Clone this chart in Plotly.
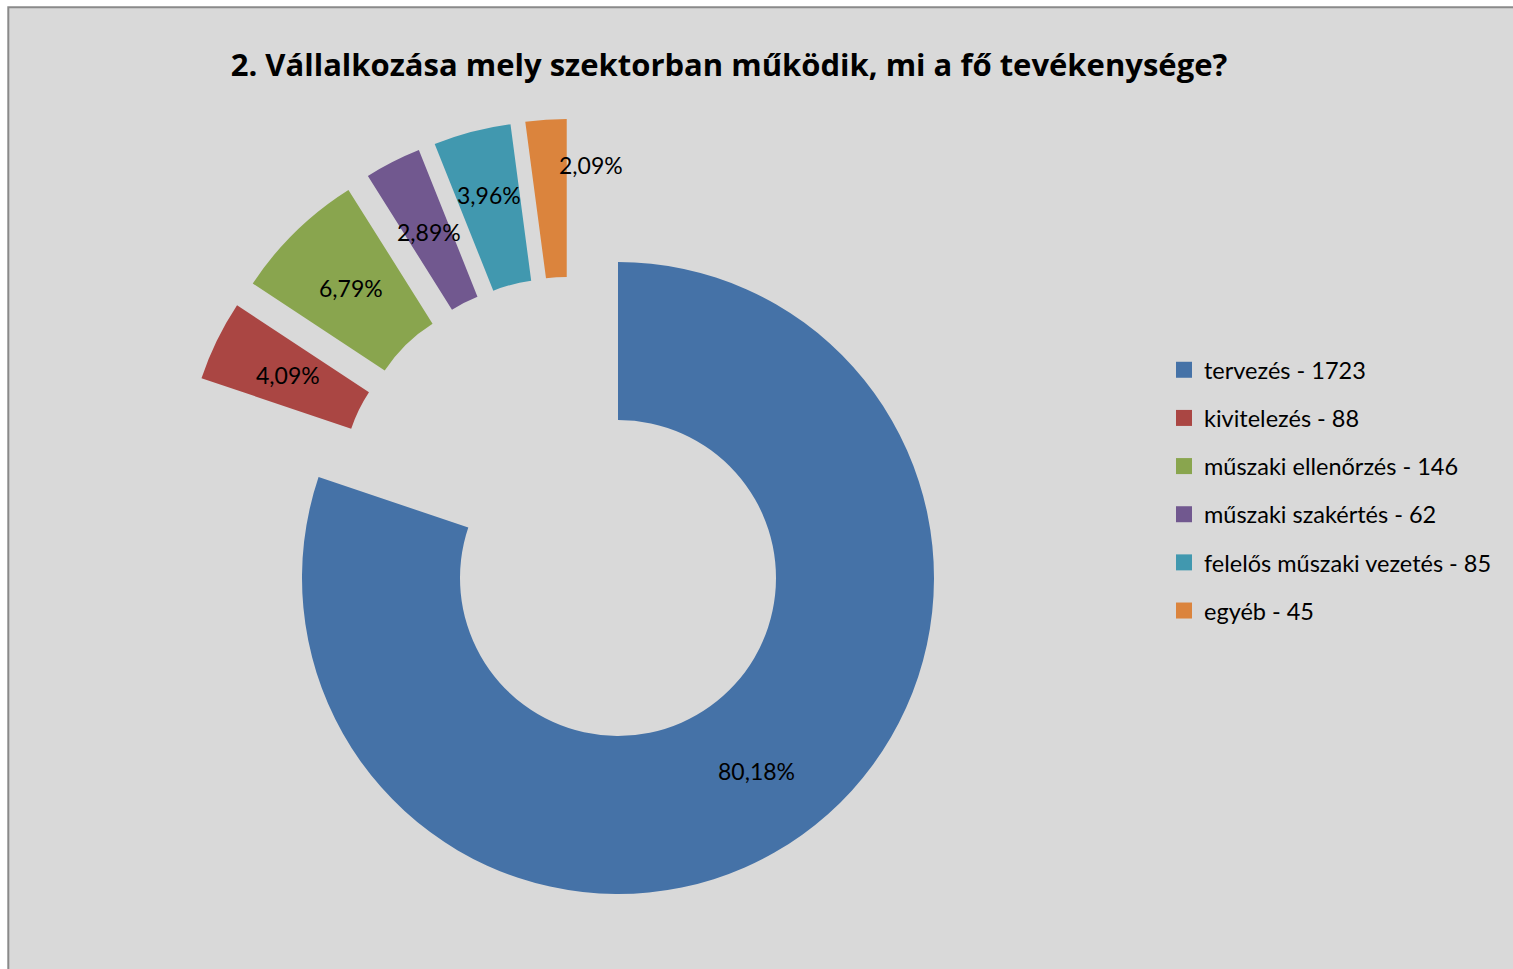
import math
import plotly.graph_objects as go

# ---------------- data ----------------
categories = ["tervezés", "kivitelezés", "műszaki ellenőrzés",
              "műszaki szakértés", "felelős műszaki vezetés", "egyéb"]
counts = [1723, 88, 146, 62, 85, 45]
exploded = [False, True, True, True, True, True]
title_text = "2. Vállalkozása mely szektorban működik, mi a fő tevékenysége?"

# ---------------- style ----------------
colors = ["#4572A7", "#AA4643", "#89A54E", "#71588F", "#4198AF", "#DB843D"]
W, H = 1513, 969
CX, CY = 618, 578          # donut centre (px)
R_OUT = 316                # outer radius (px)
HOLE = 0.5
EXPLODE = 0.25             # explosion, fraction of outer radius
FONT = "Lato"
TITLE_FONT = "Open Sans"
label_nudge = {4: (-3, -13), 5: (40, -34)}   # best-fit label shifts (px)

total = sum(counts)
fracs = [c / total for c in counts]
pct_text = [f"{100 * f:.2f}".replace(".", ",") + "%" for f in fracs]
legend_text = [f"{c} - {n}" for c, n in zip(categories, counts)]

# slice angles (clockwise from 12 o'clock)
starts, ends = [], []
acc = 0.0
for f in fracs:
    starts.append(360 * acc)
    acc += f
    ends.append(360 * acc)
mids = [(a + b) / 2 for a, b in zip(starts, ends)]


def unit(deg):
    r = math.radians(deg)
    return math.sin(r), -math.cos(r)   # screen coords (y down)


ex_idx = [i for i, e in enumerate(exploded) if e]
group_mid = (starts[ex_idx[0]] + ends[ex_idx[-1]]) / 2
ug = unit(group_mid)
A = EXPLODE * R_OUT

offsets = []
for i in range(len(counts)):
    if exploded[i]:
        ui = unit(mids[i])
        offsets.append((A * (ug[0] + ui[0]), A * (ug[1] + ui[1])))
    else:
        offsets.append((0.0, 0.0))

fig = go.Figure()

for i in range(len(counts)):
    ox, oy = offsets[i]
    cx, cy = CX + ox, CY + oy
    dom = dict(x=[(cx - R_OUT) / W, (cx + R_OUT) / W],
               y=[1 - (cy + R_OUT) / H, 1 - (cy - R_OUT) / H])
    slice_colors = [colors[j] if j == i else "rgba(0,0,0,0)" for j in range(len(counts))]
    fig.add_trace(go.Pie(
        values=counts, labels=legend_text, sort=False, direction="clockwise",
        rotation=0, hole=HOLE, domain=dom, textinfo="none",
        marker=dict(colors=slice_colors, line=dict(width=0)),
        showlegend=False, hoverinfo="skip" if i > 0 else "label+percent",
    ))

# percentage labels
R_MID = R_OUT * (1 + HOLE) / 2
for i in range(len(counts)):
    ox, oy = offsets[i]
    u = unit(mids[i])
    px = CX + ox + R_MID * u[0]
    py = CY + oy + R_MID * u[1]
    nx, ny = label_nudge.get(i, (0, 0))
    px += nx
    py += ny
    fig.add_annotation(x=px / W, y=1 - py / H, xref="paper", yref="paper",
                       text=pct_text[i], showarrow=False,
                       xanchor="center", yanchor="middle",
                       font=dict(family=FONT, size=23, color="#000000"))

# legend entries
for i in range(len(counts)):
    fig.add_trace(go.Scatter(
        x=[None], y=[None], mode="markers", name=legend_text[i],
        legendgroup=str(i),
        marker=dict(symbol="square", size=16, color=colors[i]),
    ))

fig.add_shape(type="rect", xref="paper", yref="paper",
              x0=8.3 / W, x1=1.02, y0=-0.02, y1=1 - 7.2 / H,
              fillcolor="#D9D9D9", line=dict(color="#8A8A8A", width=2),
              layer="below")

fig.update_layout(
    width=W, height=H,
    margin=dict(l=0, r=0, t=0, b=0),
    paper_bgcolor="#FFFFFF", plot_bgcolor="rgba(0,0,0,0)",
    xaxis=dict(visible=False), yaxis=dict(visible=False),
    title=dict(text=title_text, x=729 / W, xanchor="center",
               y=1 - 65 / H, yref="container", yanchor="middle",
               font=dict(family=TITLE_FONT, size=31, weight=700, color="#000000")),
    legend=dict(x=1164 / W, y=1 - 348 / H, xanchor="left", yanchor="top",
                bgcolor="rgba(0,0,0,0)", font=dict(family=FONT, size=23.5, color="#000000"),
                tracegroupgap=14.6, itemsizing="trace", traceorder="grouped"),
    font=dict(family=FONT),
)

fig.write_html("out.html", config={"displayModeBar": False},
               post_script="document.body.style.margin='0';"
                           "document.body.style.overflow='hidden';")
